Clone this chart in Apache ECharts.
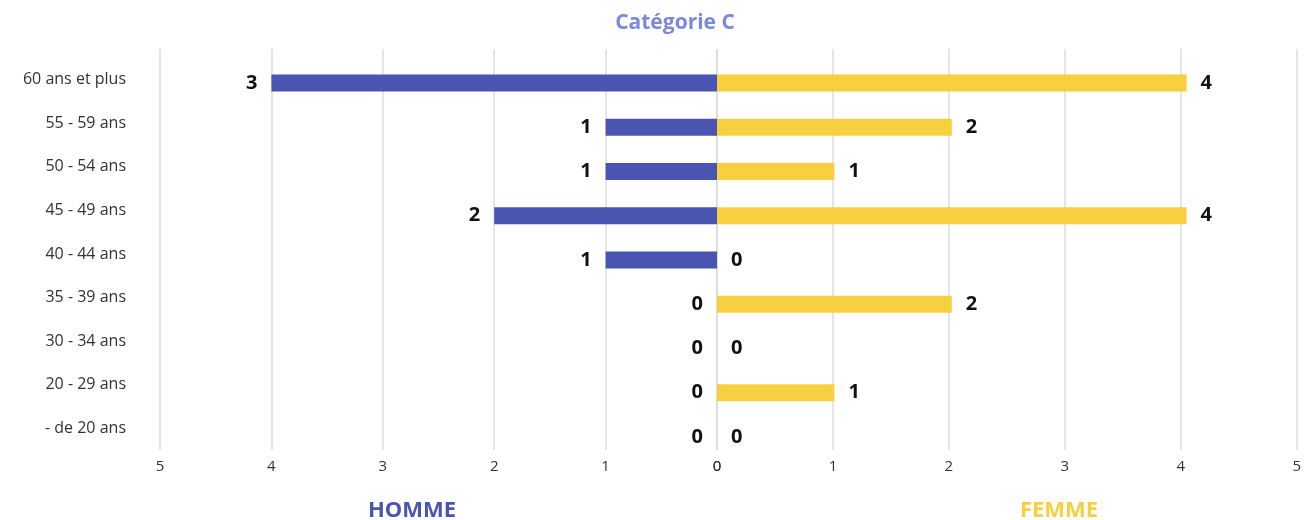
<!DOCTYPE html>
<html>
<head>
<meta charset="utf-8">
<script src="https://cdn.jsdelivr.net/npm/echarts@6/dist/echarts.min.js"></script>
<style>
  html, body { margin: 0; padding: 0; background: #fff; }
  #chart { width: 1304px; height: 520px; }
</style>
</head>
<body>
<div id="chart"></div>
<script>
// tranches d'âge, du haut vers le bas
const categories = ['60 ans et plus', '55 - 59 ans', '50 - 54 ans', '45 - 49 ans', '40 - 44 ans',
  '35 - 39 ans', '30 - 34 ans', '20 - 29 ans', '- de 20 ans'];
// longueur des barres côté homme (la barre 60+ va jusqu'à 4 sur l'original)
const hommeValues = [4, 1, 1, 2, 1, 0, 0, 0, 0];
// étiquettes affichées côté homme
const hommeLabels = [3, 1, 1, 2, 1, 0, 0, 0, 0];
const femmeValues = [4, 2, 1, 4, 0, 2, 0, 1, 0];
const axisMax = 5;

const blue = '#4a55b1';
const yellow = '#f8d03f';
const font = '"Open Sans", "Noto Sans", sans-serif';

const chart = echarts.init(document.getElementById('chart'), null, { renderer: 'canvas' });

const barLabel = {
  show: true,
  distance: 14,
  fontSize: 20,
  fontWeight: 'bold',
  fontFamily: font,
  color: '#111'
};

const hiddenCat = (i) => ({
  gridIndex: i, type: 'category', data: categories, inverse: true, show: false
});

const gridAxis = (i, inverse) => ({
  gridIndex: i, type: 'value', min: 0, max: axisMax, interval: 1, inverse: inverse,
  axisLine: { show: false },
  axisTick: { show: false },
  splitLine: { show: true, lineStyle: { color: '#dcdcdc', width: 1.5 } },
  axisLabel: { margin: 9, fontSize: 15, color: '#333', fontFamily: font }
});

const option = {
  animation: false,
  grid: [
    { left: 160, width: 557, top: 61, height: 398 },  // barres homme
    { left: 717, right: -5, top: 61, height: 398 },   // barres femme
    { left: 160, width: 557, top: 49, height: 401 },  // quadrillage gauche
    { left: 717, right: -5, top: 49, height: 401 },   // quadrillage droit
    { left: 160, width: 557, top: 58, height: 392 }   // libellés des tranches
  ],
  xAxis: [
    { gridIndex: 0, type: 'value', min: 0, max: axisMax, inverse: true, show: false },
    { gridIndex: 1, type: 'value', min: 0, max: axisMax, show: false },
    gridAxis(2, true),
    gridAxis(3, false),
    { gridIndex: 4, type: 'value', min: 0, max: 1, show: false }
  ],
  yAxis: [
    hiddenCat(0),
    hiddenCat(1),
    hiddenCat(2),
    hiddenCat(3),
    {
      gridIndex: 4, type: 'category', data: categories, inverse: true,
      axisLine: { show: false },
      axisTick: { show: false },
      axisLabel: { margin: 34, fontSize: 16, color: '#333', fontFamily: font }
    }
  ],
  series: [
    {
      name: 'Homme',
      type: 'bar',
      xAxisIndex: 0,
      yAxisIndex: 0,
      data: hommeValues,
      barWidth: 17,
      itemStyle: { color: blue },
      label: Object.assign({}, barLabel, {
        position: 'left',
        formatter: p => hommeLabels[p.dataIndex]
      })
    },
    {
      name: 'Femme',
      type: 'bar',
      xAxisIndex: 1,
      yAxisIndex: 1,
      data: femmeValues,
      barWidth: 17,
      itemStyle: { color: yellow },
      label: Object.assign({}, barLabel, { position: 'right' })
    }
  ],
  graphic: [
    {
      type: 'text', x: 675, y: 23,
      style: { text: 'Catégorie C', textAlign: 'center', textVerticalAlign: 'middle',
        font: 'bold 21px ' + font, fill: '#7b89dc' }
    },
    {
      type: 'text', x: 412, y: 511,
      style: { text: 'HOMME', textAlign: 'center', textVerticalAlign: 'middle',
        font: 'bold 22px ' + font, fill: blue }
    },
    {
      type: 'text', x: 1059, y: 511,
      style: { text: 'FEMME', textAlign: 'center', textVerticalAlign: 'middle',
        font: 'bold 22px ' + font, fill: yellow }
    }
  ]
};

chart.setOption(option);
</script>
</body>
</html>
